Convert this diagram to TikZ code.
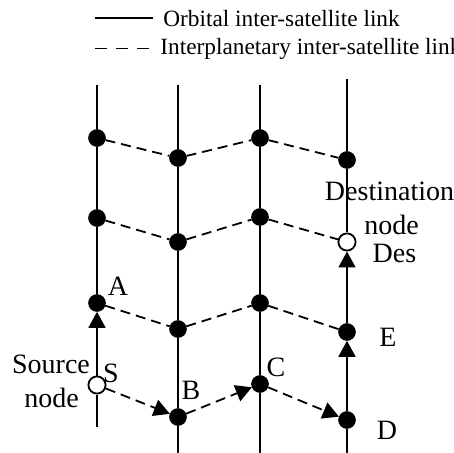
\documentclass[tikz,border=0pt]{standalone}
\usepackage{fontspec}
\setmainfont{Liberation Serif}
\usetikzlibrary{arrows.meta}
\begin{document}
\begin{tikzpicture}[x=0.5pt,y=-0.5pt,
  sat/.style={circle,fill=black,draw=black,line width=0.5pt,inner sep=0pt,minimum size=8.3pt},
  endpt/.style={circle,fill=white,draw=black,line width=0.9pt,inner sep=0pt,minimum size=8.6pt},
  orb/.style={line width=0.9pt},
  ipl/.style={line width=0.9pt,dash pattern=on 5pt off 3pt},
  hop/.style={-{Triangle[length=8pt,width=8.5pt]}},
  lbl/.style={font=\fontsize{14}{17}\selectfont,inner sep=0pt,anchor=base},
  leg/.style={font=\fontsize{11.65}{14}\selectfont,inner sep=0pt,anchor=base west}]
\useasboundingbox[fill=white] (0,0) rectangle (454,453);

% legend
\coordinate (l1a) at (95,18.3);
\coordinate (l1b) at (153,18.3);
\coordinate (l2a) at (95,48.5);
\coordinate (l2b) at (152,48.5);
\draw[orb] (l1a) -- (l1b);
\draw[line width=0.9pt,dash pattern=on 6pt off 4.5pt] (l2a) -- (l2b);
\node[leg] (leg1) at (163,26.7) {Orbital inter-satellite link};
\node[leg] (leg2) at (160,55) {Interplanetary inter-satellite link};

% ends of orbits
\coordinate (t1) at (97,85);   \coordinate (b1) at (97,427);
\coordinate (t2) at (178,85);  \coordinate (b2) at (178,453);
\coordinate (t3) at (260,85);  \coordinate (b3) at (260,453);
\coordinate (t4) at (347,79);  \coordinate (b4) at (347,453);

% satellites
\node[sat] (r1c1) at (97,138) {};
\node[sat] (r1c2) at (178,158) {};
\node[sat] (r1c3) at (260,138) {};
\node[sat] (r1c4) at (347,160) {};
\node[sat] (r2c1) at (97,218) {};
\node[sat] (r2c2) at (178,242) {};
\node[sat] (r2c3) at (260,217) {};
\node[endpt] (Des) at (347,242) {};
\node[sat] (A) at (97,303) {};
\node[sat] (r3c2) at (178,329) {};
\node[sat] (r3c3) at (260,303) {};
\node[sat] (E) at (347,332) {};
\node[endpt] (S) at (97,385) {};
\node[sat] (B) at (178,417) {};
\node[sat] (C) at (260,384) {};
\node[sat] (D) at (347,420) {};

% orbital links
\draw[orb] (t1) -- (r1c1) -- (r2c1) -- (A);
\draw[orb,hop] (S) -- (A);
\draw[orb] (S) -- (b1);
\draw[orb] (t2) -- (r1c2) -- (r2c2) -- (r3c2) -- (B) -- (b2);
\draw[orb] (t3) -- (r1c3) -- (r2c3) -- (r3c3) -- (C) -- (b3);
\draw[orb] (t4) -- (r1c4) -- (Des);
\draw[orb,hop] (E) -- (Des);
\draw[orb,hop] (D) -- (E);
\draw[orb] (D) -- (b4);

% interplanetary links
\draw[ipl] (r1c1) -- (r1c2) -- (r1c3) -- (r1c4);
\draw[ipl] (r2c1) -- (r2c2) -- (r2c3) -- (Des);
\draw[ipl] (A) -- (r3c2) -- (r3c3) -- (E);
\draw[ipl,hop] (S) -- (B);
\draw[ipl,hop] (B) -- (C);
\draw[ipl,hop] (C) -- (D);

% labels
\node[lbl] (lA) at (118,296) {A};
\node[lbl] (lB) at (191,400) {B};
\node[lbl] (lC) at (276,377) {C};
\node[lbl] (lE) at (388,346.5) {E};
\node[lbl] (lD) at (387,439.5) {D};
\node[lbl] (lS) at (111,382) {S};
\node[lbl] (lSrc1) at (51,373) {Source};
\node[lbl] (lSrc2) at (51.5,408) {node};
\node[lbl] (lDst1) at (389.5,201) {Destination};
\node[lbl] (lDst2) at (391.5,235) {node};
\node[lbl] (lDes) at (394.5,263) {Des};
\end{tikzpicture}
\end{document}
